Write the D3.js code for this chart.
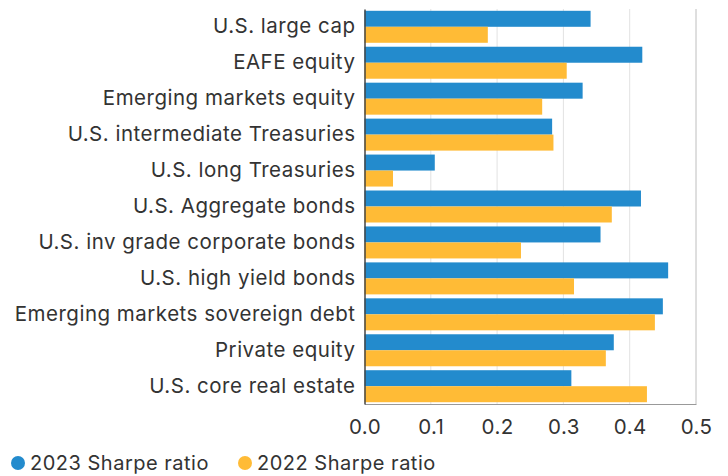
<!DOCTYPE html>
<html>
<head>
<meta charset="utf-8">
<script src="https://cdn.jsdelivr.net/npm/d3@7"></script>
<style>
  body { margin: 0; background: #fff; }
  text { font-family: Inter, "Noto Sans", sans-serif; fill: #333; }
</style>
</head>
<body>
<div id="chart"></div>
<script>
// Sharpe ratios by asset class, 2023 vs 2022
const categories = [
  "U.S. large cap", "EAFE equity", "Emerging markets equity",
  "U.S. intermediate Treasuries", "U.S. long Treasuries", "U.S. Aggregate bonds",
  "U.S. inv grade corporate bonds", "U.S. high yield bonds",
  "Emerging markets sovereign debt", "Private equity", "U.S. core real estate"
];
const sharpe2023 = [0.341, 0.419, 0.329, 0.283, 0.106, 0.417, 0.356, 0.458, 0.450, 0.376, 0.312];
const sharpe2022 = [0.186, 0.305, 0.268, 0.285, 0.043, 0.373, 0.236, 0.316, 0.438, 0.364, 0.426];
const seriesNames = ["2023 Sharpe ratio", "2022 Sharpe ratio"];
const xTicks = [0, 0.1, 0.2, 0.3, 0.4, 0.5];

const colors = ["#238bcd", "#ffbb36"];
const W = 728, H = 476;
const margin = { top: 9, right: 32, bottom: 72, left: 364.5 };
const width = W - margin.left - margin.right;
const height = H - margin.top - margin.bottom;

const svg = d3.select("#chart").append("svg")
  .attr("width", W).attr("height", H);
const g = svg.append("g")
  .attr("transform", `translate(${margin.left},${margin.top})`);

const x = d3.scaleLinear().domain([0, 0.5]).range([0, width]);
const y = d3.scaleBand().domain(categories).range([0, height]).paddingInner(0.11).paddingOuter(0.05);
const sub = d3.scaleBand().domain([0, 1]).range([0, y.bandwidth()]);

// gridlines
g.selectAll(".grid").data(xTicks.slice(1))
  .enter().append("line")
  .attr("x1", d => x(d)).attr("x2", d => x(d))
  .attr("y1", 0).attr("y2", height)
  .attr("stroke", "#e2e2e2").attr("stroke-width", 1);

// bars
const rows = categories.map((c, i) => ({ c, vals: [sharpe2023[i], sharpe2022[i]] }));
const row = g.selectAll(".row").data(rows).enter().append("g")
  .attr("transform", d => `translate(0,${y(d.c)})`);
row.selectAll("rect").data(d => d.vals).enter().append("rect")
  .attr("x", 0)
  .attr("y", (d, i) => sub(i))
  .attr("width", d => x(d))
  .attr("height", sub.bandwidth())
  .attr("fill", (d, i) => colors[i]);

// bottom axis
const xAxis = g.append("g")
  .attr("transform", `translate(0,${height})`)
  .call(d3.axisBottom(x).tickValues(xTicks).tickFormat(d3.format(".1f")).tickSize(0).tickPadding(15));
xAxis.select(".domain").attr("stroke", "#999");
xAxis.selectAll("text").style("font-size", "20.5px").style("letter-spacing", "0.4px").attr("fill", "#333");

// right border
g.append("line")
  .attr("x1", width).attr("x2", width).attr("y1", 0).attr("y2", height)
  .attr("stroke", "#ccc");

// left axis
const yAxis = g.append("g")
  .call(d3.axisLeft(y).tickSize(0).tickPadding(9));
yAxis.select(".domain").attr("stroke", "#444").attr("stroke-width", 1.5);
yAxis.selectAll("text").style("font-size", "20.5px").style("letter-spacing", "0.5px").attr("fill", "#333");

// legend
const legend = svg.append("g").attr("transform", "translate(0,463)");
const legX = [18, 245];
seriesNames.forEach((name, i) => {
  legend.append("circle").attr("cx", legX[i]).attr("cy", 0).attr("r", 7).attr("fill", colors[i]);
  legend.append("text").attr("x", legX[i] + 12).attr("y", 0).attr("dy", "0.35em")
    .style("font-size", "20px").style("letter-spacing", "0.5px").text(name);
});
</script>
</body>
</html>
